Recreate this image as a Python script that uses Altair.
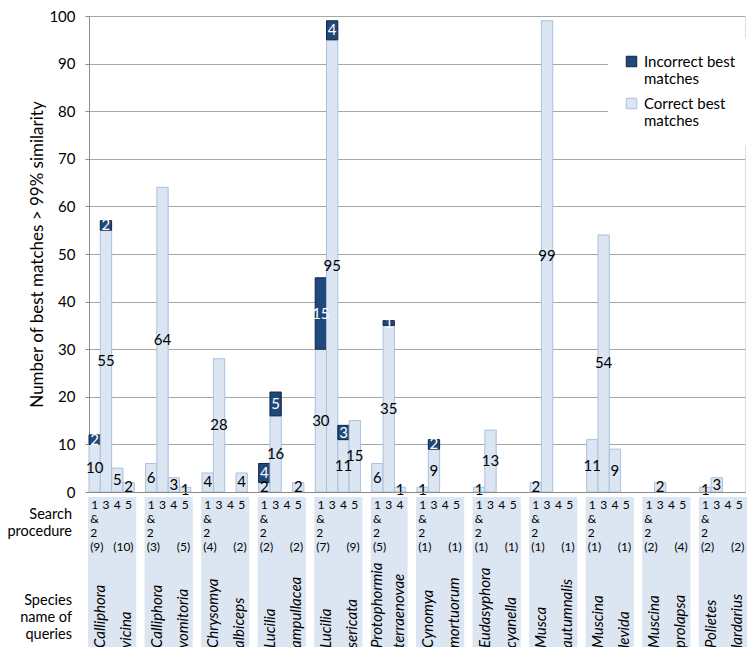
import altair as alt
import pandas as pd

species = ["Calliphora vicina", "Calliphora vomitoria", "Chrysomya albiceps",
           "Lucilia ampullacea", "Lucilia sericata", "Protophormia terraenovae",
           "Cynomya mortuorum", "Eudasyphora cyanella", "Musca autumnalis",
           "Muscina levida", "Muscina prolapsa", "Polietes lardarius"]
procedures = [["1 & 2", "3", "4", "5"]] * 5 + [["1 & 2", "3", "4"]] + [["1 & 2", "3", "4", "5"]] * 6
correct = [[10, 55, 5, 2], [6, 64, 3, 1], [4, 28, 0, 4], [2, 16, 0, 2], [30, 95, 11, 15],
           [6, 35, 1], [1, 9, 0, 0], [1, 13, 0, 0], [2, 99, 0, 0], [11, 54, 9, 0],
           [0, 2, 0, 0], [1, 3, 0, 0]]
incorrect = [[2, 2, 0, 0], [0, 0, 0, 0], [0, 0, 0, 0], [4, 5, 0, 0], [15, 4, 3, 0],
             [0, 1, 0], [0, 2, 0, 0], [0, 0, 0, 0], [0, 0, 0, 0], [0, 0, 0, 0],
             [0, 0, 0, 0], [0, 0, 0, 0]]
query_counts = [["(9)", "(10)"], ["(3)", "(5)"], ["(4)", "(2)"], ["(2)", "(2)"], ["(7)", "(9)"],
                ["(5)", ""], ["(1)", "(1)"], ["(1)", "(1)"], ["(1)", "(1)"], ["(1)", "(1)"],
                ["(2)", "(4)"], ["(2)", "(2)"]]
types = ["Incorrect best matches", "Correct best matches"]
y_ticks = list(range(0, 101, 10))

FONT = "Lato"
slot_order, slot_rows, bar_rows, group_rows = [], [], [], []
k = 0
for i, sp in enumerate(species):
    procs = procedures[i]
    first = None
    for j, p in enumerate(procs):
        sid = f"s{k:02d}"
        k += 1
        slot_order.append(sid)
        if first is None:
            first = sid
        genus, epithet = sp.split(" ")
        slot_rows.append(dict(slot=sid, pos=j, n=len(procs), digit=p.split(" ")[0],
                              left=query_counts[i][0] if j == 0 else "",
                              right=query_counts[i][1] if j == len(procs) - 1 else "",
                              genus=genus, epithet=epithet))
        if correct[i][j] > 0:
            bar_rows.append(dict(slot=sid, type=types[1], value=correct[i][j], order=0))
        if incorrect[i][j] > 0:
            bar_rows.append(dict(slot=sid, type=types[0], value=incorrect[i][j], order=1))
        last = sid
    group_rows.append(dict(first=first, last=last))
    if i < len(species) - 1:
        slot_order.append(f"s{k:02d}")
        k += 1

bar_df = pd.DataFrame(bar_rows)
slot_df = pd.DataFrame(slot_rows)
group_df = pd.DataFrame(group_rows)

xs = alt.Scale(domain=slot_order, paddingInner=0, paddingOuter=0)
X = alt.X("slot:N", scale=xs, axis=alt.Axis(labels=False, ticks=False, title=None,
                                              domainColor="#8c8c8c", grid=False))

legend = alt.Legend(title=None, orient="none", legendX=519, legendY=22, fillColor="white",
                    padding=16, symbolType="square", symbolSize=110, symbolStrokeWidth=1,
                    labelFont=FONT, labelFontSize=15, labelColor="black", rowPadding=9,
                    labelBaseline="middle", labelOffset=5,
                    labelExpr="datum.label == 'Incorrect best matches' ? ['Incorrect best', 'matches'] : ['Correct best', 'matches']")

bars = alt.Chart(bar_df).mark_bar(strokeWidth=1).encode(
    x=X,
    y=alt.Y("value:Q", stack="zero", scale=alt.Scale(domain=[0, 100]),
            axis=alt.Axis(values=y_ticks, title="Number of best matches > 99% similarity",
                          grid=True, gridColor="#a6a6a6", domainColor="#8c8c8c",
                          tickColor="#8c8c8c", tickSize=4, labelPadding=10, titlePadding=2,
                          labelFont=FONT, labelFontSize=15, labelColor="black",
                          titleFont=FONT, titleFontSize=17, titleFontWeight="normal",
                          titleColor="black")),
    fill=alt.Fill("type:N", scale=alt.Scale(domain=types, range=["#1f497d", "#dce6f2"]), legend=legend),
    stroke=alt.Stroke("type:N", scale=alt.Scale(domain=types, range=["#10253f", "#a9c0de"]), legend=legend),
    order=alt.Order("order:Q"),
)

bar_labels = alt.Chart(bar_df).transform_stack(
    stack="value", groupby=["slot"], as_=["y0", "y1"], sort=[alt.SortField("order")]
).transform_calculate(mid="(datum.y0 + datum.y1) / 2").mark_text(
    font=FONT, fontSize=15, baseline="middle"
).encode(
    x=alt.X("slot:N", scale=xs),
    y=alt.Y("mid:Q"),
    text="value:Q",
    color=alt.Color("type:N", scale=alt.Scale(domain=types, range=["#ffffff", "#000000"]), legend=None),
)

boxes = alt.Chart(group_df).mark_rect(color="#dce6f2", x2Offset=2, xOffset=-1).encode(
    x=alt.X("first:N", scale=xs, bandPosition=0),
    x2=alt.X2("last:N", bandPosition=1),
    y=alt.value(481), y2=alt.value(645),
)

tbase = alt.Chart(slot_df)
digits = tbase.mark_text(font=FONT, fontSize=12, baseline="middle", color="black").encode(
    x=alt.X("slot:N", scale=xs), y=alt.value(489), text="digit:N")
amp = tbase.transform_filter("datum.pos == 0").mark_text(
    font=FONT, fontSize=12, baseline="middle", align="left", dx=-4.5, color="black"
).encode(x=alt.X("slot:N", scale=xs), y=alt.value(503), text=alt.value("&"))
two = tbase.transform_filter("datum.pos == 0").mark_text(
    font=FONT, fontSize=12, baseline="middle", align="left", dx=-4.5, color="black"
).encode(x=alt.X("slot:N", scale=xs), y=alt.value(517), text=alt.value("2"))
leftc = tbase.transform_filter("datum.pos == 0").mark_text(
    font=FONT, fontSize=12, baseline="middle", align="left", dx=-4.5, color="black"
).encode(x=alt.X("slot:N", scale=xs), y=alt.value(531), text="left:N")
rightc = tbase.transform_filter("datum.right != ''").mark_text(
    font=FONT, fontSize=12, baseline="middle", align="right", dx=5, color="black"
).encode(x=alt.X("slot:N", scale=xs), y=alt.value(531), text="right:N")

NAME_Y = 632
gen4 = tbase.transform_filter("datum.n == 4 && datum.pos == 1").mark_text(
    font=FONT, fontSize=15, fontStyle="italic", angle=270, align="left", baseline="alphabetic",
    dy=-1, color="black"
).encode(x=alt.X("slot:N", scale=xs), y=alt.value(NAME_Y), text="genus:N")
epi4 = tbase.transform_filter("datum.n == 4 && datum.pos == 3").mark_text(
    font=FONT, fontSize=15, fontStyle="italic", angle=270, align="left", baseline="alphabetic",
    dy=2.5, color="black"
).encode(x=alt.X("slot:N", scale=xs), y=alt.value(NAME_Y), text="epithet:N")
gen3 = tbase.transform_filter("datum.n == 3 && datum.pos == 0").mark_text(
    font=FONT, fontSize=15, fontStyle="italic", angle=270, align="left", baseline="alphabetic",
    dy=4.5, color="black"
).encode(x=alt.X("slot:N", scale=xs), y=alt.value(NAME_Y), text="genus:N")
epi3 = tbase.transform_filter("datum.n == 3 && datum.pos == 2").mark_text(
    font=FONT, fontSize=15, fontStyle="italic", angle=270, align="left", baseline="alphabetic",
    dy=3.7, color="black"
).encode(x=alt.X("slot:N", scale=xs), y=alt.value(NAME_Y), text="epithet:N")

row_titles = alt.Chart(pd.DataFrame({"a": [0]})).mark_text(
    font=FONT, fontSize=14.5, align="right", baseline="middle", lineHeight=17, color="black"
)
search_lbl = row_titles.encode(x=alt.value(-17), y=alt.value(499), text=alt.value(["Search", "procedure"]))
species_lbl = row_titles.encode(x=alt.value(-17), y=alt.value(585), text=alt.value(["Species", "name of", "queries"]))

chart = alt.layer(
    boxes, bars, bar_labels, digits, amp, two, leftc, rightc, gen4, epi4, gen3, epi3,
    search_lbl, species_lbl
).properties(
    width=656, height=476,
    autosize=alt.AutoSizeParams(type="none"),
    padding={"left": 81, "top": 8, "right": 3, "bottom": 155},
).configure_view(stroke=None).configure(background="white")

chart.save("out.html", embed_options={"renderer": "svg", "actions": False})
